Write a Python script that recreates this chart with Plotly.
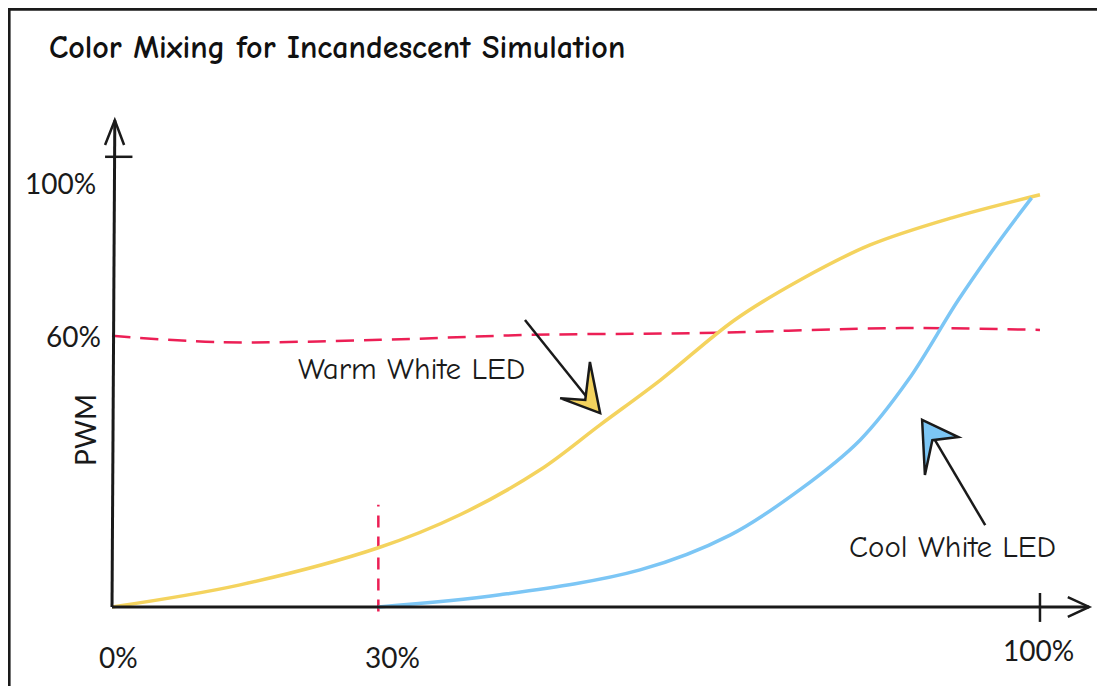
import plotly.graph_objects as go

# ---- data (percent units) ----
warm_x = [0, 13.8, 28.7, 37.5, 46.1, 52.6, 59.1, 67.1, 74.1, 81.7, 90.5, 100]
warm_y = [0, 4.9, 13.1, 20.4, 30.3, 40.3, 50.2, 63.5, 72.3, 80.1, 86.1, 91.2]

cool_x = [28.7, 41.8, 56.9, 66.6, 74.1, 80.6, 85.8, 91.2, 95.7, 99.1]
cool_y = [0, 2.7, 8.2, 15.9, 25.9, 36.9, 50.2, 67.9, 81.2, 90.5]

ref60_x = [0, 11.6, 28.9, 45.0, 63.4, 85.0, 100]
ref60_y = [60, 58.6, 59.1, 60.2, 60.6, 61.7, 61.3]

ref30_x = [28.7, 28.7]
ref30_y = [-1, 22.6]

x_tick_vals = [0, 30, 100]
x_tick_text = ["0%", "30%", "100%"]
y_tick_vals = [100, 60]
y_tick_text = ["100%", "60%"]

title = "Color Mixing for Incandescent Simulation"

WARM = "#f4d35e"
COOL = "#7cc6f5"
RED = "#ec1f55"
INK = "#1a1a1a"
LABEL_FONT = "Lato, 'Open Sans', sans-serif"
HAND_FONT = "'Comic Sans MS', 'Comic Neue', Lato, sans-serif"

fig = go.Figure()

fig.add_trace(go.Scatter(x=ref60_x, y=ref60_y, mode="lines",
                         line=dict(color=RED, width=2.5, dash="18px,10px", shape="spline"),
                         hoverinfo="skip", showlegend=False))
fig.add_trace(go.Scatter(x=ref30_x, y=ref30_y, mode="lines",
                         line=dict(color=RED, width=2.5, dash="12px,9px"),
                         hoverinfo="skip", showlegend=False))
fig.add_trace(go.Scatter(x=warm_x, y=warm_y, mode="lines", name="Warm White LED",
                         line=dict(color=WARM, width=3.5, shape="spline"), showlegend=False))
fig.add_trace(go.Scatter(x=cool_x, y=cool_y, mode="lines", name="Cool White LED",
                         line=dict(color=COOL, width=3.5, shape="spline"), showlegend=False))

shapes = []
# outer frame (top and left edges)
shapes.append(dict(type="line", xref="paper", yref="paper", x0=0.0, y0=0.999, x1=1.0, y1=0.999,
                   line=dict(color=INK, width=4)))
shapes.append(dict(type="line", xref="paper", yref="paper", x0=0.001, y0=1.0, x1=0.001, y1=0.0,
                   line=dict(color=INK, width=3)))
# axes
shapes.append(dict(type="line", x0=0, y0=0, x1=0.3, y1=107.7, line=dict(color=INK, width=3)))
shapes.append(dict(type="line", x0=0, y0=0, x1=105.3, y1=0, line=dict(color=INK, width=3)))
# y arrowhead
shapes.append(dict(type="path", path="M -0.75 102.2 L 0.3 107.7 L 1.3 102.2", line=dict(color=INK, width=2.5)))
# x arrowhead
shapes.append(dict(type="path", path="M 103.0 2.2 L 105.3 0 L 103.0 -2.2", line=dict(color=INK, width=2.5)))
# ticks at 100%
shapes.append(dict(type="line", x0=-0.75, y0=99.6, x1=2.2, y1=99.6, line=dict(color=INK, width=2.5)))
shapes.append(dict(type="line", x0=100, y0=3.1, x1=100, y1=-3.3, line=dict(color=INK, width=2.5)))

# pointer arrows
shapes.append(dict(type="line", x0=44.5, y0=63.5, x1=51.8, y1=44.8, line=dict(color=INK, width=2.5)))
shapes.append(dict(type="path", path="M 52.6 42.9 L 48.3 46.2 L 51.0 45.8 L 51.5 54.2 Z",
                   fillcolor=WARM, line=dict(color=INK, width=2.5)))
shapes.append(dict(type="line", x0=94.1, y0=18.1, x1=88.0, y1=39.3, line=dict(color=INK, width=2.5)))
shapes.append(dict(type="path", path="M 87.3 41.4 L 91.2 37.6 L 88.4 36.9 L 87.6 29.2 Z",
                   fillcolor=COOL, line=dict(color=INK, width=2.5)))

annotations = []
annotations.append(dict(xref="paper", yref="paper", x=0.035, y=0.943, xanchor="left", yanchor="middle",
                        text="<b>" + title + "</b>", showarrow=False,
                        font=dict(family=HAND_FONT, size=32, color="#111111")))
x_label_pos = [(0.65, -11.06), (30.2, -11.06), (99.8, -9.5)]
for (lx, ly), t in zip(x_label_pos, x_tick_text):
    annotations.append(dict(x=lx, y=ly, text=t, showarrow=False,
                            xanchor="center", yanchor="middle",
                            font=dict(family=LABEL_FONT, size=28, color=INK)))
y_label_pos = [(-1.5, 93.8), (-0.97, 60)]
for (lx, ly), t in zip(y_label_pos, y_tick_text):
    annotations.append(dict(x=lx, y=ly, text=t, showarrow=False,
                            xanchor="right", yanchor="middle",
                            font=dict(family=LABEL_FONT, size=28, color=INK)))
annotations.append(dict(x=-2.9, y=39.2, text="PWM", textangle=-90, showarrow=False,
                        xanchor="center", yanchor="middle",
                        font=dict(family=LABEL_FONT, size=28, color=INK)))
annotations.append(dict(x=32.3, y=52.65, text="Warm White LED", showarrow=False,
                        xanchor="center", yanchor="middle",
                        font=dict(family=HAND_FONT, size=31, color=INK)))
annotations.append(dict(x=90.6, y=13.3, text="Cool White LED", showarrow=False,
                        xanchor="center", yanchor="middle",
                        font=dict(family=HAND_FONT, size=31, color=INK)))

fig.update_layout(
    width=1105, height=686,
    margin=dict(l=0, r=0, t=0, b=0),
    paper_bgcolor="white", plot_bgcolor="white",
    xaxis=dict(range=[-11.21, 107.87], visible=False, fixedrange=True),
    yaxis=dict(range=[-19.25, 132.52], visible=False, fixedrange=True),
    shapes=shapes, annotations=annotations,
)

fig.write_html("out.html")
